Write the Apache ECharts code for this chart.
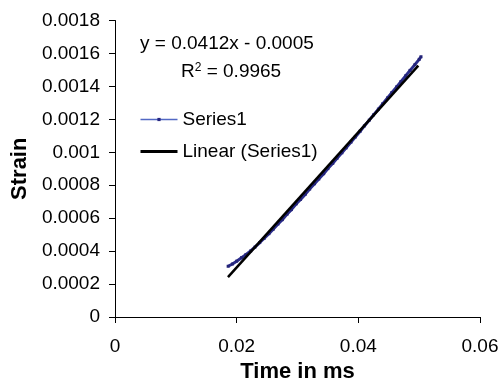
<!DOCTYPE html>
<html>
<head>
<meta charset="utf-8">
<script src="https://cdn.jsdelivr.net/npm/echarts@6/dist/echarts.min.js"></script>
<style>
  html, body { margin: 0; padding: 0; background: #fff; }
  #chart { width: 502px; height: 383px; }
</style>
</head>
<body>
<div id="chart"></div>
<script>
// measured strain over time (ms)
const timeMs = [
  0.0186, 0.0193, 0.0200, 0.0208, 0.0215, 0.0223, 0.0230, 0.0238, 0.0245, 0.0253,
  0.0260, 0.0268, 0.0275, 0.0283, 0.0290, 0.0298, 0.0305, 0.0313, 0.0320, 0.0328,
  0.0335, 0.0343, 0.0350, 0.0358, 0.0365, 0.0373, 0.0380, 0.0388, 0.0395, 0.0403,
  0.0410, 0.0418, 0.0425, 0.0433, 0.0440, 0.0448, 0.0455, 0.0463, 0.0470, 0.0478,
  0.0485, 0.0493, 0.0500, 0.0503
];
const strain = [
  0.000308, 0.000322, 0.000339, 0.000360, 0.000378, 0.000401, 0.000424, 0.000452, 0.000477, 0.000506,
  0.000533, 0.000565, 0.000591, 0.000625, 0.000652, 0.000687, 0.000714, 0.000746, 0.000777, 0.000809,
  0.000838, 0.000870, 0.000901, 0.000933, 0.000964, 0.000997, 0.001027, 0.001062, 0.001093, 0.001128,
  0.001160, 0.001195, 0.001227, 0.001262, 0.001294, 0.001330, 0.001362, 0.001397, 0.001429, 0.001465,
  0.001497, 0.001532, 0.001564, 0.001580
];

// trendline end points as drawn
const trendX = [0.01857, 0.04986];
const trendY = [0.000242, 0.001526];

const equationText = 'y = 0.0412x - 0.0005';
const r2Value = '0.9965';

const xTicks = { min: 0, max: 0.06, interval: 0.02 };
const yTicks = { min: 0, max: 0.0018, interval: 0.0002 };

const FONT = '"Liberation Sans", Arial, sans-serif';

var chart = echarts.init(document.getElementById('chart'));

const option = {
  animation: false,
  backgroundColor: '#fff',
  textStyle: { fontFamily: FONT, color: '#000' },
  grid: {
    left: 115, right: 22, top: 20.5, bottom: 66,
    containLabel: false,
    outerBoundsMode: 'none'
  },
  legend: {
    orient: 'vertical',
    left: 134,
    top: 105,
    itemWidth: 37,
    itemHeight: 4,
    itemGap: 13,
    textStyle: { fontSize: 19, color: '#000', fontFamily: FONT },
    data: [
      {
        name: 'Series1',
        lineStyle: { color: '#5268c4', width: 1.5 },
        itemStyle: { color: '#262680' }
      },
      {
        name: 'Linear (Series1)',
        lineStyle: { color: '#000', width: 3 },
        itemStyle: { opacity: 0 }
      }
    ]
  },
  xAxis: {
    type: 'value',
    min: xTicks.min,
    max: xTicks.max,
    interval: xTicks.interval,
    name: 'Time in ms',
    nameLocation: 'middle',
    nameGap: 44,
    nameTextStyle: { fontSize: 22, fontWeight: 'bold', color: '#000', fontFamily: FONT },
    axisLine: { lineStyle: { color: '#000', width: 1 } },
    axisTick: { show: true, length: 6, lineStyle: { color: '#000' } },
    axisLabel: { fontSize: 19, color: '#000', margin: 20, fontFamily: FONT },
    splitLine: { show: false }
  },
  yAxis: {
    type: 'value',
    min: yTicks.min,
    max: yTicks.max,
    interval: yTicks.interval,
    name: 'Strain',
    nameLocation: 'middle',
    nameGap: 79,
    nameRotate: 90,
    nameTextStyle: { fontSize: 22, fontWeight: 'bold', color: '#000', fontFamily: FONT },
    axisLine: { show: true, lineStyle: { color: '#000', width: 1 } },
    axisTick: { show: true, length: 6, lineStyle: { color: '#000' } },
    axisLabel: { fontSize: 19, color: '#000', margin: 15, fontFamily: FONT },
    splitLine: { show: false }
  },
  series: [
    {
      name: 'Series1',
      type: 'line',
      data: timeMs.map((t, i) => [t, strain[i]]),
      symbol: 'rect',
      symbolSize: 3,
      showAllSymbol: true,
      lineStyle: { color: '#2b2d8c', width: 3 },
      itemStyle: { color: '#242478' },
      z: 2
    },
    {
      name: 'Linear (Series1)',
      type: 'line',
      data: trendX.map((t, i) => [t, trendY[i]]),
      symbol: 'none',
      lineStyle: { color: '#000', width: 2.5 },
      itemStyle: { color: '#000' },
      z: 3
    }
  ],
  graphic: [
    {
      type: 'text',
      left: 140,
      top: 34,
      style: { text: equationText, fontSize: 19, fontFamily: FONT, fill: '#000' }
    },
    {
      type: 'text',
      left: 181,
      top: 62,
      style: {
        text: 'R{sup|2} = ' + r2Value,
        fontSize: 19,
        fontFamily: FONT,
        fill: '#000',
        rich: {
          sup: { fontSize: 12, fontFamily: FONT, fill: '#000', verticalAlign: 'top', padding: [0, 0, 8, 0] }
        }
      }
    }
  ]
};

chart.setOption(option);
</script>
</body>
</html>
